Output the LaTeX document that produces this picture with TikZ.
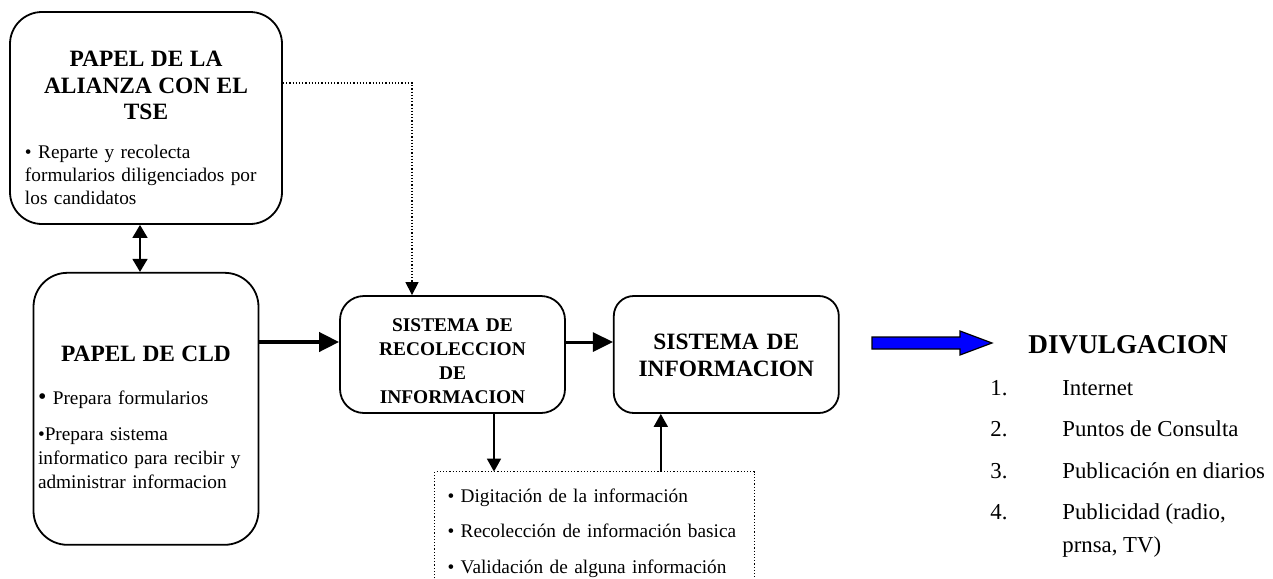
\documentclass[tikz,border=0pt]{standalone}
\usepackage{fontspec}
\setmainfont{Liberation Serif}
\usetikzlibrary{arrows.meta,positioning}

\begin{document}
\begin{tikzpicture}[x=1pt,y=-1pt,
        caja/.style={draw,line width=0.9pt,rounded corners=#1,inner sep=0pt},
        flecha/.style={line width=#1,-{Triangle[length=10pt,width=9.5pt]}},
        flechita/.style={line width=0.9pt,-{Triangle[length=6.5pt,width=7pt]}},
        punteado/.style={densely dotted,line width=0.6pt}]

  \useasboundingbox (0,0) rectangle (636.5,289);

  \node[caja=16pt,minimum width=136pt,minimum height=106pt,text width=121pt,align=left,
        text height=17.7pt,font=\fontsize{9.65}{11.5}\selectfont] (tse) at (73,59)
    {{\centering\fontsize{11.7}{13.25}\selectfont\bfseries PAPEL DE LA\\ ALIANZA CON EL\\ TSE\par}
     \vspace{8pt}• Reparte y recolecta\\ formularios diligenciados por\\ los candidatos};
  \node[caja=17pt,minimum width=112.5pt,minimum height=136pt,text width=108pt,align=left,
        text height=16.5pt,font=\fontsize{9.65}{12}\selectfont] (cld) [below=23.5pt of tse]
    {{\centering\fontsize{11.7}{13.25}\selectfont\bfseries PAPEL DE CLD\par}
     \vspace{9.5pt}{\fontsize{12}{12}\selectfont•} Prepara formularios\par\vspace{6pt}•Prepara sistema\\ informatico para recibir y\\ administrar informacion};
  \node[caja=12pt,minimum width=112.5pt,minimum height=58.5pt,text width=112.5pt,align=center,
        text height=13.5pt,font=\fontsize{9.7}{12}\selectfont\bfseries] (rec) at (226.25,177.25)
    {SISTEMA DE\\ RECOLECCION\\ DE\\ INFORMACION};
  \node[caja=10pt,minimum width=112.5pt,minimum height=58.5pt,text width=112.5pt,align=center,
        text height=8.8pt,font=\fontsize{11.7}{13.3}\selectfont\bfseries] (si) [right=23.5pt of rec]
    {SISTEMA DE\\ INFORMACION};
  \node[minimum width=159.5pt,minimum height=53pt,inner sep=0pt,text width=147pt,align=left,
        text height=14.7pt,font=\fontsize{9.65}{17.75}\selectfont] (dig) at (297.25,262.5)
    {• Digitación de la información\\ • Recolección de información basica\\ • Validación de alguna información};
  \draw[punteado] (dig.south west) -- (dig.north west) -- (dig.north east) -- (dig.south east);

  \node[anchor=base west,inner sep=0pt,font=\fontsize{13.6}{16}\selectfont\bfseries] (div) at (514,176.5) {DIVULGACION};
  \node[anchor=base west,inner sep=0pt,font=\fontsize{11.4}{16.5}\selectfont] (lista) at (495,197.5)
    {\begin{tabular}[t]{@{}p{36pt}@{}l@{}}
      1. & Internet\\[4.3pt]
      2. & Puntos de Consulta\\[4.3pt]
      3. & Publicación en diarios\\[4.3pt]
      4. & Publicidad (radio,\\
         & prnsa, TV)
     \end{tabular}};

  \filldraw[fill=blue,draw=black,line width=0.6pt] (436,168.5) -- (480,168.5) -- (480,165.5) -- (496,171.5)
    -- (480,177.5) -- (480,174.5) -- (436,174.5) -- cycle;

  \coordinate (entra) at ([yshift=6.25pt]rec.west);
  \draw[line width=0.8pt,{Triangle[length=6.5pt,width=7.5pt]}-{Triangle[length=6.5pt,width=7.5pt]}]
    ([xshift=-3pt]tse.south) -- ([xshift=-3pt]tse.south |- cld.north);
  \draw[punteado,-{Triangle[length=6.5pt,width=6.5pt]}] ([yshift=17.5pt]tse.east) -| ([xshift=-20.25pt]rec.north);
  \draw[flecha=2pt] (cld.east |- entra) -- (entra);
  \draw[flecha=1.5pt] ([yshift=6.25pt]rec.east) -- ([yshift=6.25pt]si.west);
  \draw[flechita] ([xshift=20.75pt]rec.south) -- ([xshift=20.75pt]rec.south |- dig.north);
  \draw[flechita] ([xshift=-32.75pt]si.south |- dig.north) -- ([xshift=-32.75pt]si.south);

\end{tikzpicture}
\end{document}
